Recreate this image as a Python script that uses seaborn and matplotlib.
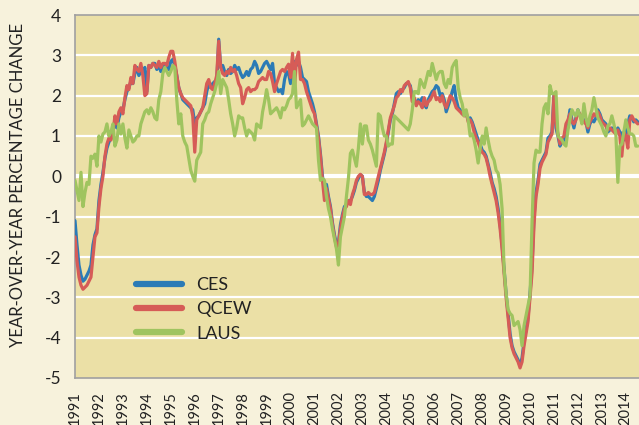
import numpy as np
import pandas as pd
import seaborn as sns
import matplotlib.pyplot as plt
from matplotlib import font_manager
from matplotlib.lines import Line2D

# monthly year-over-year % change, Jan 1991 .. Jul 2014
ces = [
    -1.1, -1.7, -2.2, -2.45, -2.6, -2.55, -2.45, -2.35, -2.2, -1.7, -1.45, -1.3,
    -0.6, -0.2, 0.1, 0.45, 0.7, 0.85, 0.95, 1.15, 1.3, 1.2, 1.45, 1.6,
    1.65, 1.9, 2.1, 2.2, 2.35, 2.3, 2.55, 2.7, 2.5, 2.6, 2.55, 2.7,
    2.1, 2.75, 2.7, 2.8, 2.8, 2.65, 2.75, 2.6, 2.7, 2.75, 2.7, 2.65,
    2.85, 2.9, 2.75, 2.5, 2.2, 2.05, 1.9, 1.85, 1.8, 1.75, 1.7, 1.65,
    1.3, 1.45, 1.5, 1.6, 1.7, 1.8, 2.1, 2.3, 2.2, 2.3, 2.35, 2.3,
    3.4, 2.7, 2.75, 2.6, 2.5, 2.65, 2.55, 2.6, 2.75, 2.65, 2.7, 2.55,
    2.45, 2.5, 2.6, 2.5, 2.65, 2.7, 2.85, 2.75, 2.55, 2.6, 2.7, 2.8,
    2.85, 2.75, 2.65, 2.8, 2.3, 2.2, 2.1, 2.15, 2.05, 2.4, 2.6, 2.55,
    2.3, 2.5, 2.85, 2.75, 2.85, 2.7, 2.45, 2.4, 2.35, 2.1, 1.95, 1.8,
    1.6, 1.3, 1.0, 0.55, 0.0, -0.35, -0.2, -0.5, -0.75, -1.15, -1.45, -1.7,
    -1.65, -1.2, -0.95, -0.75, -0.7, -0.65, -0.6, -0.5, -0.35, -0.15, -0.05, 0.04,
    0.0, -0.4, -0.5, -0.5, -0.55, -0.6, -0.5, -0.3, -0.1, 0.15, 0.35, 0.55,
    0.8, 1.1, 1.4, 1.55, 1.8, 2.05, 2.1, 2.05, 2.15, 2.2, 2.3, 2.3,
    2.25, 1.95, 1.85, 1.8, 1.9, 1.85, 1.95, 1.8, 1.7, 1.9, 2.0, 2.1,
    2.15, 2.25, 2.2, 2.0, 2.05, 1.9, 1.6, 1.75, 1.9, 2.1, 2.25, 1.9,
    1.7, 1.65, 1.55, 1.6, 1.55, 1.4, 1.45, 1.35, 1.2, 1.05, 0.9, 0.8,
    0.65, 0.6, 0.5, 0.3, 0.1, -0.15, -0.3, -0.5, -0.8, -1.2, -1.7, -2.3,
    -2.9, -3.4, -3.9, -4.2, -4.35, -4.45, -4.55, -4.7, -4.5, -4.1, -3.8, -3.5,
    -2.9, -2.2, -1.0, -0.4, -0.1, 0.3, 0.4, 0.5, 0.6, 0.95, 1.0, 1.1,
    2.05, 1.2, 1.0, 0.75, 0.85, 0.9, 1.2, 1.3, 1.65, 1.4, 1.2, 1.45,
    1.65, 1.5, 1.45, 1.4, 1.35, 1.1, 1.3, 1.4, 1.35, 1.45, 1.65, 1.55,
    1.4, 1.35, 1.3, 1.1, 1.15, 1.2, 1.15, 1.1, 1.2, 1.1, 1.05, 0.9,
    1.05, 1.3, 1.5, 1.45, 1.35, 1.4, 1.35,
]

qcew = [
    -1.5, -2.1, -2.5, -2.7, -2.8, -2.75, -2.7, -2.6, -2.5, -2.0, -1.5, -1.4,
    -0.75, -0.3, 0.0, 0.5, 0.8, 0.95, 0.9, 1.05, 1.5, 1.3, 1.6, 1.7,
    1.55, 1.95, 2.25, 2.15, 2.45, 2.3, 2.75, 2.65, 2.6, 2.8, 2.5, 2.0,
    2.05, 2.75, 2.7, 2.8, 2.75, 2.7, 2.85, 2.7, 2.8, 2.8, 2.75, 2.95,
    3.1, 3.1, 2.85, 2.5, 2.2, 2.05, 1.95, 1.9, 1.85, 1.8, 1.75, 1.5,
    0.6, 1.4, 1.5, 1.6, 1.7, 2.0, 2.3, 2.4, 2.2, 2.15, 2.3, 2.5,
    3.35, 2.7, 2.55, 2.5, 2.6, 2.55, 2.7, 2.6, 2.65, 2.5, 2.3, 2.2,
    1.8, 1.95, 2.15, 2.2, 2.1, 2.15, 2.15, 2.2, 2.35, 2.4, 2.45, 2.4,
    2.4, 2.6, 2.55, 2.35, 2.1, 2.3, 2.45, 2.6, 2.65, 2.6, 2.7, 2.78,
    2.45, 3.05, 2.2, 2.9, 3.08, 2.4, 2.4, 2.3, 2.1, 1.95, 1.8, 1.65,
    1.55, 1.25, 0.95, 0.5, -0.1, -0.6, -0.3, -0.55, -0.8, -1.2, -1.5, -1.75,
    -1.7, -1.3, -1.0, -0.8, -0.75, -0.6, -0.7, -0.45, -0.3, -0.1, 0.0, 0.05,
    0.0, -0.45, -0.45, -0.4, -0.45, -0.45, -0.4, -0.2, 0.0, 0.2, 0.4, 0.6,
    0.85, 1.15, 1.45, 1.6, 1.75, 1.95, 2.0, 2.15, 2.1, 2.25, 2.3, 2.35,
    2.2, 1.85, 1.95, 1.75, 1.85, 1.8, 1.7, 1.95, 1.75, 1.85, 1.9, 2.0,
    2.1, 1.9, 1.95, 1.85, 2.0, 1.8, 1.7, 1.85, 2.0, 1.95, 1.85, 1.7,
    1.65, 1.6, 1.55, 1.5, 1.6, 1.35, 1.4, 1.3, 1.1, 0.95, 0.85, 0.7,
    0.6, 0.55, 0.45, 0.25, 0.0, -0.2, -0.4, -0.6, -0.9, -1.3, -1.8, -2.4,
    -3.0, -3.5, -4.0, -4.25, -4.4, -4.5, -4.6, -4.75, -4.6, -4.2, -3.9, -3.6,
    -3.0, -2.4, -1.2, -0.5, -0.2, 0.2, 0.35, 0.45, 0.55, 0.85, 0.95, 1.05,
    2.0, 1.3, 1.05, 0.8, 0.95, 1.0, 1.3, 1.4, 1.55, 1.35, 1.3, 1.4,
    1.6, 1.55, 1.45, 1.35, 1.3, 1.2, 1.35, 1.45, 1.55, 1.5, 1.6, 1.5,
    1.35, 1.3, 1.25, 1.15, 1.2, 1.15, 1.1, 1.05, 1.15, 1.0, 0.5, 1.1,
    1.0, 0.7, 1.4, 1.5, 1.4, 1.35, 1.3,
]

laus = [
    -0.1, -0.35, -0.6, 0.1, -0.75, -0.4, -0.15, -0.2, 0.5, 0.45, 0.55, 0.25,
    1.0, 0.85, 1.05, 1.1, 1.3, 1.0, 1.1, 1.3, 0.75, 0.9, 1.3, 1.05,
    1.3, 0.95, 0.7, 1.15, 1.0, 0.85, 0.9, 1.0, 1.0, 1.3, 1.45, 1.6,
    1.65, 1.55, 1.7, 1.6, 1.45, 1.4, 1.9, 2.1, 2.55, 2.7, 2.6, 2.5,
    2.6, 2.75, 2.7, 1.9, 1.3, 1.55, 1.0, 0.85, 0.75, 0.45, 0.15, 0.0,
    -0.12, 0.4, 0.5, 0.6, 1.3, 1.4, 1.55, 1.6, 1.8, 1.95, 2.1, 2.3,
    2.6, 2.05, 2.4, 2.3, 2.2, 1.9, 1.55, 1.3, 1.0, 1.2, 1.5, 1.45,
    1.45, 1.2, 1.0, 1.15, 1.1, 1.05, 0.9, 1.3, 1.25, 1.2, 1.6, 1.85,
    2.15, 1.9, 1.55, 1.6, 1.65, 1.7, 1.6, 1.45, 1.7, 1.65, 1.75, 1.9,
    1.95, 2.05, 2.6, 1.7, 1.8, 1.9, 1.25, 1.3, 1.4, 1.5, 1.4, 1.3,
    1.25, 1.2, 0.4, -0.1, -0.05, -0.1, -0.5, -0.8, -1.0, -1.3, -1.55, -1.8,
    -2.2, -1.5, -1.25, -1.0, -0.5, -0.05, 0.57, 0.65, 0.45, 0.25, 0.7, 1.3,
    0.8, 1.25, 1.25, 0.9, 0.8, 0.65, 0.45, 0.25, 1.55, 1.5, 1.2, 1.0,
    1.0, 0.75, 0.8, 0.8, 1.5, 1.45, 1.4, 1.35, 1.3, 1.25, 1.2, 1.15,
    1.3, 1.65, 2.1, 2.1, 2.05, 2.4, 2.3, 2.2, 2.4, 2.6, 2.5, 2.8,
    2.6, 2.4, 2.55, 2.6, 2.6, 2.3, 2.2, 2.4, 2.3, 2.7, 2.8, 2.87,
    2.2, 1.95, 1.8, 1.5, 1.65, 1.4, 1.0, 1.05, 0.9, 0.65, 0.33, 0.7,
    1.0, 0.8, 1.2, 0.9, 0.65, 0.5, 0.4, 0.15, 0.08, -0.2, -0.8, -2.3,
    -2.9, -3.3, -3.4, -3.45, -3.7, -3.65, -3.6, -3.8, -4.2, -3.7, -3.45, -3.2,
    -2.95, -1.15, 0.33, 0.65, 0.6, 0.6, 1.3, 1.7, 1.8, 1.55, 2.25, 2.05,
    2.05, 2.1, 1.0, 0.95, 0.9, 0.8, 0.75, 1.15, 1.4, 1.65, 1.55, 1.5,
    1.65, 1.5, 1.3, 1.8, 1.45, 1.25, 1.5, 1.65, 1.95, 1.7, 1.45, 1.35,
    1.25, 1.1, 1.0, 1.25, 1.3, 1.5, 1.3, 1.05, -0.15, 0.75, 0.8, 1.1,
    1.4, 1.2, 1.05, 1.05, 1.0, 0.75, 0.75,
]

series_names = ['CES', 'QCEW', 'LAUS']
series_colors = {'CES': '#2b7bb6', 'QCEW': '#d65c57', 'LAUS': '#9fc45f'}
year_ticks = list(range(1991, 2015))
y_ticks = list(range(-5, 5))

months = np.arange(len(ces))
t = 1991 + months / 12.0
df = pd.concat([
    pd.DataFrame({'ano': t, 'valor': v, 'serie': nome})
    for nome, v in zip(series_names, [ces, qcew, laus])
])

names = {f.name for f in font_manager.fontManager.ttflist}
fonte = 'Liberation Sans Narrow' if 'Liberation Sans Narrow' in names else 'Lato'

sns.set_theme(style='white')
plt.rcParams['font.family'] = [fonte, 'DejaVu Sans']

fig = plt.figure(figsize=(6.39, 4.25), dpi=100, facecolor='#f7f2dc')
ax = fig.add_axes([75 / 639, 1 - 378 / 425, 1 - 75 / 639, (378 - 15) / 425])
ax.set_facecolor('#ebe0a6')

for yv in range(-4, 4):
    ax.axhline(yv, color='white', lw=3.0 if yv == 0 else 1.6, zorder=1)

sns.lineplot(data=df, x='ano', y='valor', hue='serie', hue_order=series_names,
             palette=series_colors, linewidth=2.3, ax=ax, legend=False, zorder=3)

ax.set_xlim(1991, 2014.55)
ax.set_ylim(-5, 4)
ax.set_xticks(year_ticks)
ax.set_xticklabels([str(a) for a in year_ticks], rotation=90, fontsize=10.5, color='#222222')
ax.set_yticks(y_ticks)
ax.set_yticklabels([str(v) for v in y_ticks], fontsize=12.5, color='#222222')
ax.tick_params(axis='both', length=8, width=1.2, color='#a0a0a0', pad=2, direction='out')
ax.tick_params(axis='x', length=8, pad=1.5)
ax.set_xlabel('')
ax.set_ylabel('')

for lado in ['left', 'bottom', 'top']:
    ax.spines[lado].set_color('#a0a0a0')
    ax.spines[lado].set_linewidth(1.2)
ax.spines['right'].set_visible(False)

fig.text(18 / 639, 1 - 185 / 425, 'YEAR-OVER-YEAR PERCENTAGE CHANGE', rotation=90,
         ha='center', va='center', fontsize=12, color='#222222')

handles = [Line2D([0], [0], color=series_colors[n], lw=4.5, solid_capstyle='round')
           for n in series_names]
ax.legend(handles, series_names, loc='upper left', bbox_to_anchor=(0.08, 0.322),
          frameon=False, fontsize=13, handlelength=2.5, handletextpad=0.8,
          labelspacing=0.45, labelcolor='#222222')

fig.savefig('out.png', dpi=100, facecolor=fig.get_facecolor())
